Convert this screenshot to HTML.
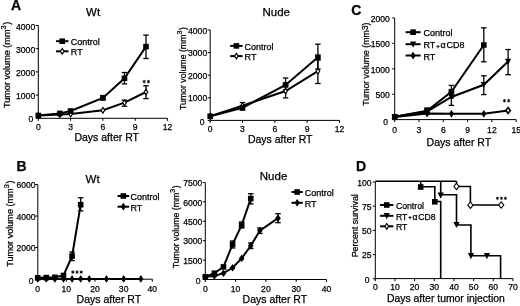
<!DOCTYPE html>
<html><head><meta charset="utf-8"><style>
html,body{margin:0;padding:0;background:#fff;}
body{width:520px;height:306px;overflow:hidden;font-family:"Liberation Sans", sans-serif;}
text{stroke:#000;stroke-width:0.25px;}
svg{display:block;filter:grayscale(1) blur(0.35px);}
</style></head><body>
<svg width="520" height="306" viewBox="0 0 520 306" font-family="'Liberation Sans', sans-serif">
<rect width="520" height="306" fill="#fff"/>
<text x="10.90" y="10.30" font-size="14" text-anchor="start" font-weight="bold" >A</text>
<text x="86.10" y="16.30" font-size="11.5" text-anchor="start" font-weight="normal" >Wt</text>
<line x1="38.30" y1="25.50" x2="38.30" y2="118.30" stroke="#000" stroke-width="1.0"/>
<line x1="38.30" y1="118.30" x2="167.54" y2="118.30" stroke="#000" stroke-width="1.0"/>
<line x1="35.80" y1="118.30" x2="38.30" y2="118.30" stroke="#000" stroke-width="1.0"/>
<line x1="35.80" y1="95.10" x2="38.30" y2="95.10" stroke="#000" stroke-width="1.0"/>
<line x1="35.80" y1="71.90" x2="38.30" y2="71.90" stroke="#000" stroke-width="1.0"/>
<line x1="35.80" y1="48.70" x2="38.30" y2="48.70" stroke="#000" stroke-width="1.0"/>
<line x1="35.80" y1="25.50" x2="38.30" y2="25.50" stroke="#000" stroke-width="1.0"/>
<line x1="38.30" y1="118.30" x2="38.30" y2="120.80" stroke="#000" stroke-width="1.0"/>
<line x1="70.61" y1="118.30" x2="70.61" y2="120.80" stroke="#000" stroke-width="1.0"/>
<line x1="102.92" y1="118.30" x2="102.92" y2="120.80" stroke="#000" stroke-width="1.0"/>
<line x1="135.23" y1="118.30" x2="135.23" y2="120.80" stroke="#000" stroke-width="1.0"/>
<line x1="167.54" y1="118.30" x2="167.54" y2="120.80" stroke="#000" stroke-width="1.0"/>
<text x="35.20" y="99.40" font-size="8.6" text-anchor="end" font-weight="normal" >1000</text>
<text x="35.20" y="76.20" font-size="8.6" text-anchor="end" font-weight="normal" >2000</text>
<text x="35.20" y="53.00" font-size="8.6" text-anchor="end" font-weight="normal" >3000</text>
<text x="35.20" y="29.80" font-size="8.6" text-anchor="end" font-weight="normal" >4000</text>
<text x="33.20" y="122.30" font-size="8.6" text-anchor="end" font-weight="normal" >0</text>
<text x="38.30" y="130.40" font-size="8.6" text-anchor="middle" font-weight="normal" >0</text>
<text x="70.61" y="130.40" font-size="8.6" text-anchor="middle" font-weight="normal" >3</text>
<text x="102.92" y="130.40" font-size="8.6" text-anchor="middle" font-weight="normal" >6</text>
<text x="135.23" y="130.40" font-size="8.6" text-anchor="middle" font-weight="normal" >9</text>
<text x="167.54" y="130.40" font-size="8.6" text-anchor="middle" font-weight="normal" >12</text>
<text x="74.40" y="141.00" font-size="10.5" text-anchor="start" font-weight="normal" >Days after RT</text>
<text transform="translate(10.20,108.00) rotate(-90)" font-size="9.1">Tumor volume (mm<tspan dy="-4.00" font-size="7.46">3</tspan><tspan dy="4.00" dx="0.60">)</tspan></text>
<line x1="56.00" y1="41.20" x2="68.50" y2="41.20" stroke="#000" stroke-width="2.0"/>
<rect x="59.45" y="38.40" width="5.60" height="5.60" fill="#000"/>
<text x="70.80" y="45.20" font-size="9.0" text-anchor="start" font-weight="normal" >Control</text>
<line x1="56.00" y1="51.30" x2="68.50" y2="51.30" stroke="#000" stroke-width="2.0"/>
<polygon points="62.25,48.50 64.05,51.30 62.25,54.10 60.45,51.30" fill="#fff" stroke="#000" stroke-width="1.2"/>
<text x="70.80" y="55.30" font-size="9.0" text-anchor="start" font-weight="normal" >RT</text>
<line x1="124.46" y1="72.50" x2="124.46" y2="83.90" stroke="#000" stroke-width="1.3"/>
<line x1="121.71" y1="72.50" x2="127.21" y2="72.50" stroke="#000" stroke-width="1.3"/>
<line x1="121.71" y1="83.90" x2="127.21" y2="83.90" stroke="#000" stroke-width="1.3"/>
<line x1="146.00" y1="35.10" x2="146.00" y2="58.50" stroke="#000" stroke-width="1.3"/>
<line x1="143.25" y1="35.10" x2="148.75" y2="35.10" stroke="#000" stroke-width="1.3"/>
<line x1="143.25" y1="58.50" x2="148.75" y2="58.50" stroke="#000" stroke-width="1.3"/>
<line x1="124.46" y1="100.20" x2="124.46" y2="106.30" stroke="#000" stroke-width="1.3"/>
<line x1="121.71" y1="100.20" x2="127.21" y2="100.20" stroke="#000" stroke-width="1.3"/>
<line x1="121.71" y1="106.30" x2="127.21" y2="106.30" stroke="#000" stroke-width="1.3"/>
<line x1="146.00" y1="85.80" x2="146.00" y2="98.60" stroke="#000" stroke-width="1.3"/>
<line x1="143.25" y1="85.80" x2="148.75" y2="85.80" stroke="#000" stroke-width="1.3"/>
<line x1="143.25" y1="98.60" x2="148.75" y2="98.60" stroke="#000" stroke-width="1.3"/>
<line x1="102.92" y1="95.50" x2="102.92" y2="99.50" stroke="#000" stroke-width="1.3"/>
<line x1="100.17" y1="95.50" x2="105.67" y2="95.50" stroke="#000" stroke-width="1.3"/>
<line x1="100.17" y1="99.50" x2="105.67" y2="99.50" stroke="#000" stroke-width="1.3"/>
<line x1="70.61" y1="109.50" x2="70.61" y2="113.00" stroke="#000" stroke-width="1.3"/>
<line x1="67.86" y1="109.50" x2="73.36" y2="109.50" stroke="#000" stroke-width="1.3"/>
<line x1="67.86" y1="113.00" x2="73.36" y2="113.00" stroke="#000" stroke-width="1.3"/>
<polyline points="38.30,115.50 59.84,113.40 70.61,111.00 102.92,98.00 124.46,78.30 146.00,46.60" fill="none" stroke="#000" stroke-width="2.0" stroke-linejoin="miter"/>
<polyline points="38.30,115.50 59.84,114.50 70.61,114.00 102.92,110.30 124.46,102.70 146.00,92.00" fill="none" stroke="#000" stroke-width="2.0" stroke-linejoin="miter"/>
<polygon points="38.30,112.70 40.10,115.50 38.30,118.30 36.50,115.50" fill="#fff" stroke="#000" stroke-width="1.2"/>
<polygon points="59.84,111.70 61.64,114.50 59.84,117.30 58.04,114.50" fill="#fff" stroke="#000" stroke-width="1.2"/>
<polygon points="70.61,111.20 72.41,114.00 70.61,116.80 68.81,114.00" fill="#fff" stroke="#000" stroke-width="1.2"/>
<polygon points="102.92,107.50 104.72,110.30 102.92,113.10 101.12,110.30" fill="#fff" stroke="#000" stroke-width="1.2"/>
<polygon points="124.46,99.90 126.26,102.70 124.46,105.50 122.66,102.70" fill="#fff" stroke="#000" stroke-width="1.2"/>
<polygon points="146.00,89.20 147.80,92.00 146.00,94.80 144.20,92.00" fill="#fff" stroke="#000" stroke-width="1.2"/>
<rect x="35.50" y="112.70" width="5.60" height="5.60" fill="#000"/>
<rect x="57.04" y="110.60" width="5.60" height="5.60" fill="#000"/>
<rect x="67.81" y="108.20" width="5.60" height="5.60" fill="#000"/>
<rect x="100.12" y="95.20" width="5.60" height="5.60" fill="#000"/>
<rect x="121.66" y="75.50" width="5.60" height="5.60" fill="#000"/>
<rect x="143.20" y="43.80" width="5.60" height="5.60" fill="#000"/>
<line x1="144.15" y1="79.90" x2="144.15" y2="83.30" stroke="#000" stroke-width="0.95"/>
<line x1="142.68" y1="80.75" x2="145.62" y2="82.45" stroke="#000" stroke-width="0.95"/>
<line x1="142.68" y1="82.45" x2="145.62" y2="80.75" stroke="#000" stroke-width="0.95"/>
<line x1="148.45" y1="79.90" x2="148.45" y2="83.30" stroke="#000" stroke-width="0.95"/>
<line x1="146.98" y1="80.75" x2="149.92" y2="82.45" stroke="#000" stroke-width="0.95"/>
<line x1="146.98" y1="82.45" x2="149.92" y2="80.75" stroke="#000" stroke-width="0.95"/>
<text x="262.50" y="16.10" font-size="11.5" text-anchor="start" font-weight="normal" >Nude</text>
<line x1="210.20" y1="30.00" x2="210.20" y2="120.40" stroke="#000" stroke-width="1.0"/>
<line x1="210.20" y1="120.40" x2="339.44" y2="120.40" stroke="#000" stroke-width="1.0"/>
<line x1="207.70" y1="120.40" x2="210.20" y2="120.40" stroke="#000" stroke-width="1.0"/>
<line x1="207.70" y1="97.80" x2="210.20" y2="97.80" stroke="#000" stroke-width="1.0"/>
<line x1="207.70" y1="75.20" x2="210.20" y2="75.20" stroke="#000" stroke-width="1.0"/>
<line x1="207.70" y1="52.60" x2="210.20" y2="52.60" stroke="#000" stroke-width="1.0"/>
<line x1="207.70" y1="30.00" x2="210.20" y2="30.00" stroke="#000" stroke-width="1.0"/>
<line x1="210.20" y1="120.40" x2="210.20" y2="122.90" stroke="#000" stroke-width="1.0"/>
<line x1="242.51" y1="120.40" x2="242.51" y2="122.90" stroke="#000" stroke-width="1.0"/>
<line x1="274.82" y1="120.40" x2="274.82" y2="122.90" stroke="#000" stroke-width="1.0"/>
<line x1="307.13" y1="120.40" x2="307.13" y2="122.90" stroke="#000" stroke-width="1.0"/>
<line x1="339.44" y1="120.40" x2="339.44" y2="122.90" stroke="#000" stroke-width="1.0"/>
<text x="207.20" y="101.40" font-size="8.6" text-anchor="end" font-weight="normal" >1000</text>
<text x="207.20" y="78.80" font-size="8.6" text-anchor="end" font-weight="normal" >2000</text>
<text x="207.20" y="56.20" font-size="8.6" text-anchor="end" font-weight="normal" >3000</text>
<text x="207.20" y="33.60" font-size="8.6" text-anchor="end" font-weight="normal" >4000</text>
<text x="204.50" y="124.60" font-size="8.6" text-anchor="end" font-weight="normal" >0</text>
<text x="210.20" y="132.10" font-size="8.6" text-anchor="middle" font-weight="normal" >0</text>
<text x="242.51" y="132.10" font-size="8.6" text-anchor="middle" font-weight="normal" >3</text>
<text x="274.82" y="132.10" font-size="8.6" text-anchor="middle" font-weight="normal" >6</text>
<text x="307.13" y="132.10" font-size="8.6" text-anchor="middle" font-weight="normal" >9</text>
<text x="339.44" y="132.10" font-size="8.6" text-anchor="middle" font-weight="normal" >12</text>
<text x="247.90" y="143.40" font-size="10.5" text-anchor="start" font-weight="normal" >Days after RT</text>
<text transform="translate(185.60,110.10) rotate(-90)" font-size="8.75">Tumor volume (mm<tspan dy="-3.85" font-size="7.17">3</tspan><tspan dy="3.85" dx="0.58">)</tspan></text>
<line x1="230.20" y1="45.90" x2="242.60" y2="45.90" stroke="#000" stroke-width="2.0"/>
<rect x="233.60" y="43.10" width="5.60" height="5.60" fill="#000"/>
<text x="244.60" y="49.90" font-size="9.0" text-anchor="start" font-weight="normal" >Control</text>
<line x1="230.20" y1="56.10" x2="242.60" y2="56.10" stroke="#000" stroke-width="2.0"/>
<polygon points="236.40,53.30 238.20,56.10 236.40,58.90 234.60,56.10" fill="#fff" stroke="#000" stroke-width="1.2"/>
<text x="244.60" y="60.10" font-size="9.0" text-anchor="start" font-weight="normal" >RT</text>
<line x1="317.90" y1="44.20" x2="317.90" y2="69.00" stroke="#000" stroke-width="1.3"/>
<line x1="315.15" y1="44.20" x2="320.65" y2="44.20" stroke="#000" stroke-width="1.3"/>
<line x1="315.15" y1="69.00" x2="320.65" y2="69.00" stroke="#000" stroke-width="1.3"/>
<line x1="317.90" y1="60.00" x2="317.90" y2="83.50" stroke="#000" stroke-width="1.3"/>
<line x1="315.15" y1="60.00" x2="320.65" y2="60.00" stroke="#000" stroke-width="1.3"/>
<line x1="315.15" y1="83.50" x2="320.65" y2="83.50" stroke="#000" stroke-width="1.3"/>
<line x1="285.59" y1="78.00" x2="285.59" y2="90.00" stroke="#000" stroke-width="1.3"/>
<line x1="282.84" y1="78.00" x2="288.34" y2="78.00" stroke="#000" stroke-width="1.3"/>
<line x1="282.84" y1="90.00" x2="288.34" y2="90.00" stroke="#000" stroke-width="1.3"/>
<line x1="285.59" y1="85.00" x2="285.59" y2="97.90" stroke="#000" stroke-width="1.3"/>
<line x1="282.84" y1="85.00" x2="288.34" y2="85.00" stroke="#000" stroke-width="1.3"/>
<line x1="282.84" y1="97.90" x2="288.34" y2="97.90" stroke="#000" stroke-width="1.3"/>
<line x1="242.51" y1="102.50" x2="242.51" y2="110.00" stroke="#000" stroke-width="1.3"/>
<line x1="239.76" y1="102.50" x2="245.26" y2="102.50" stroke="#000" stroke-width="1.3"/>
<line x1="239.76" y1="110.00" x2="245.26" y2="110.00" stroke="#000" stroke-width="1.3"/>
<polyline points="210.20,116.30 242.51,107.80 285.59,84.90 317.90,57.20" fill="none" stroke="#000" stroke-width="2.0" stroke-linejoin="miter"/>
<polyline points="210.20,116.30 242.51,105.60 285.59,91.00 317.90,71.20" fill="none" stroke="#000" stroke-width="2.0" stroke-linejoin="miter"/>
<polygon points="210.20,113.50 212.00,116.30 210.20,119.10 208.40,116.30" fill="#fff" stroke="#000" stroke-width="1.2"/>
<polygon points="242.51,102.80 244.31,105.60 242.51,108.40 240.71,105.60" fill="#fff" stroke="#000" stroke-width="1.2"/>
<polygon points="285.59,88.20 287.39,91.00 285.59,93.80 283.79,91.00" fill="#fff" stroke="#000" stroke-width="1.2"/>
<polygon points="317.90,68.40 319.70,71.20 317.90,74.00 316.10,71.20" fill="#fff" stroke="#000" stroke-width="1.2"/>
<rect x="207.40" y="113.50" width="5.60" height="5.60" fill="#000"/>
<rect x="239.71" y="105.00" width="5.60" height="5.60" fill="#000"/>
<rect x="282.79" y="82.10" width="5.60" height="5.60" fill="#000"/>
<rect x="315.10" y="54.40" width="5.60" height="5.60" fill="#000"/>
<text x="351.20" y="15.10" font-size="14" text-anchor="start" font-weight="bold" >C</text>
<line x1="394.70" y1="18.00" x2="394.70" y2="119.60" stroke="#000" stroke-width="1.0"/>
<line x1="394.70" y1="119.60" x2="516.20" y2="119.60" stroke="#000" stroke-width="1.0"/>
<line x1="392.20" y1="119.60" x2="394.70" y2="119.60" stroke="#000" stroke-width="1.0"/>
<line x1="392.20" y1="94.20" x2="394.70" y2="94.20" stroke="#000" stroke-width="1.0"/>
<line x1="392.20" y1="68.80" x2="394.70" y2="68.80" stroke="#000" stroke-width="1.0"/>
<line x1="392.20" y1="43.40" x2="394.70" y2="43.40" stroke="#000" stroke-width="1.0"/>
<line x1="392.20" y1="18.00" x2="394.70" y2="18.00" stroke="#000" stroke-width="1.0"/>
<line x1="394.70" y1="119.60" x2="394.70" y2="122.10" stroke="#000" stroke-width="1.0"/>
<line x1="419.00" y1="119.60" x2="419.00" y2="122.10" stroke="#000" stroke-width="1.0"/>
<line x1="443.30" y1="119.60" x2="443.30" y2="122.10" stroke="#000" stroke-width="1.0"/>
<line x1="467.60" y1="119.60" x2="467.60" y2="122.10" stroke="#000" stroke-width="1.0"/>
<line x1="491.90" y1="119.60" x2="491.90" y2="122.10" stroke="#000" stroke-width="1.0"/>
<line x1="516.20" y1="119.60" x2="516.20" y2="122.10" stroke="#000" stroke-width="1.0"/>
<text x="389.80" y="98.00" font-size="8.6" text-anchor="end" font-weight="normal" >500</text>
<text x="389.80" y="72.60" font-size="8.6" text-anchor="end" font-weight="normal" >1000</text>
<text x="389.80" y="47.20" font-size="8.6" text-anchor="end" font-weight="normal" >1500</text>
<text x="389.80" y="21.80" font-size="8.6" text-anchor="end" font-weight="normal" >2000</text>
<text x="388.00" y="124.60" font-size="8.6" text-anchor="end" font-weight="normal" >0</text>
<text x="394.70" y="132.80" font-size="8.6" text-anchor="middle" font-weight="normal" >0</text>
<text x="419.00" y="132.80" font-size="8.6" text-anchor="middle" font-weight="normal" >3</text>
<text x="443.30" y="132.80" font-size="8.6" text-anchor="middle" font-weight="normal" >6</text>
<text x="467.60" y="132.80" font-size="8.6" text-anchor="middle" font-weight="normal" >9</text>
<text x="491.90" y="132.80" font-size="8.6" text-anchor="middle" font-weight="normal" >12</text>
<text x="516.20" y="132.80" font-size="8.6" text-anchor="middle" font-weight="normal" >15</text>
<text x="426.60" y="145.60" font-size="10.5" text-anchor="start" font-weight="normal" >Days after RT</text>
<text transform="translate(369.00,105.80) rotate(-90)" font-size="8.75">Tumor volume (mm<tspan dy="-0.8">3</tspan><tspan dy="0.8">)</tspan></text>
<line x1="405.60" y1="32.20" x2="420.60" y2="32.20" stroke="#000" stroke-width="2.0"/>
<rect x="410.30" y="29.40" width="5.60" height="5.60" fill="#000"/>
<text x="423.50" y="36.20" font-size="9.0" text-anchor="start" font-weight="normal" >Control</text>
<line x1="405.60" y1="44.20" x2="420.60" y2="44.20" stroke="#000" stroke-width="2.0"/>
<polygon points="410.10,41.50 416.10,41.50 413.10,47.70" fill="#000"/>
<text x="423.50" y="48.20" font-size="9.0" text-anchor="start" font-weight="normal" >RT<tspan font-size="6" font-weight="bold" dx="0.8" dy="-0.6">+</tspan><tspan dx="0.8" dy="0.6">α</tspan><tspan dx="0.8">CD8</tspan></text>
<line x1="405.60" y1="55.50" x2="420.60" y2="55.50" stroke="#000" stroke-width="2.0"/>
<polygon points="413.10,52.70 414.90,55.50 413.10,58.30 411.30,55.50" fill="#000" stroke="#000" stroke-width="1.2"/>
<text x="423.50" y="59.50" font-size="9.0" text-anchor="start" font-weight="normal" >RT</text>
<line x1="451.40" y1="85.40" x2="451.40" y2="98.00" stroke="#000" stroke-width="1.3"/>
<line x1="448.65" y1="85.40" x2="454.15" y2="85.40" stroke="#000" stroke-width="1.3"/>
<line x1="448.65" y1="98.00" x2="454.15" y2="98.00" stroke="#000" stroke-width="1.3"/>
<line x1="483.80" y1="27.80" x2="483.80" y2="61.80" stroke="#000" stroke-width="1.3"/>
<line x1="481.05" y1="27.80" x2="486.55" y2="27.80" stroke="#000" stroke-width="1.3"/>
<line x1="481.05" y1="61.80" x2="486.55" y2="61.80" stroke="#000" stroke-width="1.3"/>
<line x1="451.40" y1="92.00" x2="451.40" y2="105.40" stroke="#000" stroke-width="1.3"/>
<line x1="448.65" y1="92.00" x2="454.15" y2="92.00" stroke="#000" stroke-width="1.3"/>
<line x1="448.65" y1="105.40" x2="454.15" y2="105.40" stroke="#000" stroke-width="1.3"/>
<line x1="483.80" y1="75.80" x2="483.80" y2="94.60" stroke="#000" stroke-width="1.3"/>
<line x1="481.05" y1="75.80" x2="486.55" y2="75.80" stroke="#000" stroke-width="1.3"/>
<line x1="481.05" y1="94.60" x2="486.55" y2="94.60" stroke="#000" stroke-width="1.3"/>
<line x1="508.10" y1="49.50" x2="508.10" y2="74.70" stroke="#000" stroke-width="1.3"/>
<line x1="505.35" y1="49.50" x2="510.85" y2="49.50" stroke="#000" stroke-width="1.3"/>
<line x1="505.35" y1="74.70" x2="510.85" y2="74.70" stroke="#000" stroke-width="1.3"/>
<line x1="427.10" y1="108.00" x2="427.10" y2="114.00" stroke="#000" stroke-width="1.3"/>
<line x1="424.35" y1="108.00" x2="429.85" y2="108.00" stroke="#000" stroke-width="1.3"/>
<line x1="424.35" y1="114.00" x2="429.85" y2="114.00" stroke="#000" stroke-width="1.3"/>
<polyline points="394.70,116.80 427.10,110.80 451.40,91.70 483.80,45.00" fill="none" stroke="#000" stroke-width="2.0" stroke-linejoin="miter"/>
<polyline points="394.70,116.80 427.10,111.50 451.40,97.00 483.80,84.80 508.10,61.50" fill="none" stroke="#000" stroke-width="2.0" stroke-linejoin="miter"/>
<polyline points="394.70,117.00 427.10,113.60 451.40,113.80 483.80,113.80 508.10,110.50" fill="none" stroke="#000" stroke-width="2.0" stroke-linejoin="miter"/>
<polygon points="394.70,114.20 396.50,117.00 394.70,119.80 392.90,117.00" fill="#000" stroke="#000" stroke-width="1.2"/>
<polygon points="427.10,110.80 428.90,113.60 427.10,116.40 425.30,113.60" fill="#000" stroke="#000" stroke-width="1.2"/>
<polygon points="451.40,111.00 453.20,113.80 451.40,116.60 449.60,113.80" fill="#000" stroke="#000" stroke-width="1.2"/>
<polygon points="483.80,111.00 485.60,113.80 483.80,116.60 482.00,113.80" fill="#000" stroke="#000" stroke-width="1.2"/>
<polygon points="391.70,114.10 397.70,114.10 394.70,120.30" fill="#000"/>
<polygon points="424.10,108.80 430.10,108.80 427.10,115.00" fill="#000"/>
<polygon points="448.40,94.30 454.40,94.30 451.40,100.50" fill="#000"/>
<polygon points="480.80,82.10 486.80,82.10 483.80,88.30" fill="#000"/>
<polygon points="505.10,58.80 511.10,58.80 508.10,65.00" fill="#000"/>
<rect x="391.90" y="114.00" width="5.60" height="5.60" fill="#000"/>
<rect x="424.30" y="108.00" width="5.60" height="5.60" fill="#000"/>
<rect x="448.60" y="88.90" width="5.60" height="5.60" fill="#000"/>
<rect x="481.00" y="42.20" width="5.60" height="5.60" fill="#000"/>
<polygon points="508.10,107.50 510.30,110.50 508.10,113.50 505.90,110.50" fill="#fff" stroke="#000" stroke-width="1.6"/>
<line x1="504.45" y1="99.00" x2="504.45" y2="102.40" stroke="#000" stroke-width="0.95"/>
<line x1="502.98" y1="99.85" x2="505.92" y2="101.55" stroke="#000" stroke-width="0.95"/>
<line x1="502.98" y1="101.55" x2="505.92" y2="99.85" stroke="#000" stroke-width="0.95"/>
<line x1="508.75" y1="99.00" x2="508.75" y2="102.40" stroke="#000" stroke-width="0.95"/>
<line x1="507.28" y1="99.85" x2="510.22" y2="101.55" stroke="#000" stroke-width="0.95"/>
<line x1="507.28" y1="101.55" x2="510.22" y2="99.85" stroke="#000" stroke-width="0.95"/>
<text x="16.60" y="170.70" font-size="14" text-anchor="start" font-weight="bold" >B</text>
<text x="85.60" y="182.50" font-size="11.5" text-anchor="start" font-weight="normal" >Wt</text>
<line x1="37.80" y1="184.50" x2="37.80" y2="279.20" stroke="#000" stroke-width="1.0"/>
<line x1="37.80" y1="279.20" x2="152.30" y2="279.20" stroke="#000" stroke-width="1.0"/>
<line x1="35.30" y1="279.00" x2="37.80" y2="279.00" stroke="#000" stroke-width="1.0"/>
<line x1="35.30" y1="247.50" x2="37.80" y2="247.50" stroke="#000" stroke-width="1.0"/>
<line x1="35.30" y1="216.00" x2="37.80" y2="216.00" stroke="#000" stroke-width="1.0"/>
<line x1="35.30" y1="184.50" x2="37.80" y2="184.50" stroke="#000" stroke-width="1.0"/>
<line x1="37.70" y1="279.20" x2="37.70" y2="281.70" stroke="#000" stroke-width="1.0"/>
<line x1="66.35" y1="279.20" x2="66.35" y2="281.70" stroke="#000" stroke-width="1.0"/>
<line x1="95.00" y1="279.20" x2="95.00" y2="281.70" stroke="#000" stroke-width="1.0"/>
<line x1="123.65" y1="279.20" x2="123.65" y2="281.70" stroke="#000" stroke-width="1.0"/>
<line x1="152.30" y1="279.20" x2="152.30" y2="281.70" stroke="#000" stroke-width="1.0"/>
<text x="35.60" y="251.30" font-size="8.6" text-anchor="end" font-weight="normal" >2000</text>
<text x="35.60" y="219.80" font-size="8.6" text-anchor="end" font-weight="normal" >4000</text>
<text x="35.60" y="188.30" font-size="8.6" text-anchor="end" font-weight="normal" >6000</text>
<text x="33.50" y="284.00" font-size="8.6" text-anchor="end" font-weight="normal" >0</text>
<text x="37.70" y="291.60" font-size="8.6" text-anchor="middle" font-weight="normal" >0</text>
<text x="66.35" y="291.60" font-size="8.6" text-anchor="middle" font-weight="normal" >10</text>
<text x="95.00" y="291.60" font-size="8.6" text-anchor="middle" font-weight="normal" >20</text>
<text x="123.65" y="291.60" font-size="8.6" text-anchor="middle" font-weight="normal" >30</text>
<text x="152.30" y="291.60" font-size="8.6" text-anchor="middle" font-weight="normal" >40</text>
<text x="76.60" y="303.00" font-size="10.5" text-anchor="start" font-weight="normal" >Days after RT</text>
<text transform="translate(13.20,266.80) rotate(-90)" font-size="9.1">Tumor volume (mm<tspan dy="-4.00" font-size="7.46">3</tspan><tspan dy="4.00" dx="0.60">)</tspan></text>
<line x1="117.50" y1="196.00" x2="129.20" y2="196.00" stroke="#000" stroke-width="2.0"/>
<rect x="120.55" y="193.20" width="5.60" height="5.60" fill="#000"/>
<text x="130.40" y="200.00" font-size="9.0" text-anchor="start" font-weight="normal" >Control</text>
<line x1="117.50" y1="206.70" x2="129.20" y2="206.70" stroke="#000" stroke-width="2.0"/>
<polygon points="123.35,203.90 125.15,206.70 123.35,209.50 121.55,206.70" fill="#000" stroke="#000" stroke-width="1.2"/>
<text x="130.40" y="210.70" font-size="9.0" text-anchor="start" font-weight="normal" >RT</text>
<line x1="72.08" y1="252.00" x2="72.08" y2="260.60" stroke="#000" stroke-width="1.3"/>
<line x1="69.33" y1="252.00" x2="74.83" y2="252.00" stroke="#000" stroke-width="1.3"/>
<line x1="69.33" y1="260.60" x2="74.83" y2="260.60" stroke="#000" stroke-width="1.3"/>
<line x1="80.68" y1="197.80" x2="80.68" y2="210.90" stroke="#000" stroke-width="1.3"/>
<line x1="77.93" y1="197.80" x2="83.43" y2="197.80" stroke="#000" stroke-width="1.3"/>
<line x1="77.93" y1="210.90" x2="83.43" y2="210.90" stroke="#000" stroke-width="1.3"/>
<polyline points="37.70,277.80 46.30,277.60 54.89,277.30 63.49,275.50 72.08,256.10 80.68,204.70" fill="none" stroke="#000" stroke-width="2.0" stroke-linejoin="miter"/>
<polyline points="37.70,278.90 46.30,278.90 54.89,278.90 63.49,278.90 72.08,278.90 80.68,278.90 89.27,278.90 106.46,278.90 123.65,278.90 140.84,278.90" fill="none" stroke="#000" stroke-width="2.0" stroke-linejoin="miter"/>
<polygon points="37.70,276.10 39.50,278.90 37.70,281.70 35.90,278.90" fill="#000" stroke="#000" stroke-width="1.2"/>
<polygon points="46.30,276.10 48.09,278.90 46.30,281.70 44.50,278.90" fill="#000" stroke="#000" stroke-width="1.2"/>
<polygon points="54.89,276.10 56.69,278.90 54.89,281.70 53.09,278.90" fill="#000" stroke="#000" stroke-width="1.2"/>
<polygon points="63.49,276.10 65.29,278.90 63.49,281.70 61.69,278.90" fill="#000" stroke="#000" stroke-width="1.2"/>
<polygon points="72.08,276.10 73.88,278.90 72.08,281.70 70.28,278.90" fill="#000" stroke="#000" stroke-width="1.2"/>
<polygon points="80.68,276.10 82.48,278.90 80.68,281.70 78.88,278.90" fill="#000" stroke="#000" stroke-width="1.2"/>
<polygon points="89.27,276.10 91.07,278.90 89.27,281.70 87.47,278.90" fill="#000" stroke="#000" stroke-width="1.2"/>
<polygon points="106.46,276.10 108.26,278.90 106.46,281.70 104.66,278.90" fill="#000" stroke="#000" stroke-width="1.2"/>
<polygon points="123.65,276.10 125.45,278.90 123.65,281.70 121.85,278.90" fill="#000" stroke="#000" stroke-width="1.2"/>
<polygon points="140.84,276.10 142.64,278.90 140.84,281.70 139.04,278.90" fill="#000" stroke="#000" stroke-width="1.2"/>
<rect x="34.90" y="275.00" width="5.60" height="5.60" fill="#000"/>
<rect x="43.50" y="274.80" width="5.60" height="5.60" fill="#000"/>
<rect x="52.09" y="274.50" width="5.60" height="5.60" fill="#000"/>
<rect x="60.69" y="272.70" width="5.60" height="5.60" fill="#000"/>
<rect x="69.28" y="253.30" width="5.60" height="5.60" fill="#000"/>
<rect x="77.88" y="201.90" width="5.60" height="5.60" fill="#000"/>
<line x1="72.80" y1="270.40" x2="72.80" y2="273.80" stroke="#000" stroke-width="0.95"/>
<line x1="71.33" y1="271.25" x2="74.27" y2="272.95" stroke="#000" stroke-width="0.95"/>
<line x1="71.33" y1="272.95" x2="74.27" y2="271.25" stroke="#000" stroke-width="0.95"/>
<line x1="77.00" y1="270.40" x2="77.00" y2="273.80" stroke="#000" stroke-width="0.95"/>
<line x1="75.53" y1="271.25" x2="78.47" y2="272.95" stroke="#000" stroke-width="0.95"/>
<line x1="75.53" y1="272.95" x2="78.47" y2="271.25" stroke="#000" stroke-width="0.95"/>
<line x1="81.20" y1="270.40" x2="81.20" y2="273.80" stroke="#000" stroke-width="0.95"/>
<line x1="79.73" y1="271.25" x2="82.67" y2="272.95" stroke="#000" stroke-width="0.95"/>
<line x1="79.73" y1="272.95" x2="82.67" y2="271.25" stroke="#000" stroke-width="0.95"/>
<text x="259.80" y="179.80" font-size="11.5" text-anchor="start" font-weight="normal" >Nude</text>
<line x1="205.30" y1="182.52" x2="205.30" y2="279.50" stroke="#000" stroke-width="1.0"/>
<line x1="205.30" y1="279.50" x2="326.50" y2="279.50" stroke="#000" stroke-width="1.0"/>
<line x1="202.80" y1="279.50" x2="205.30" y2="279.50" stroke="#000" stroke-width="1.0"/>
<line x1="202.80" y1="260.11" x2="205.30" y2="260.11" stroke="#000" stroke-width="1.0"/>
<line x1="202.80" y1="240.71" x2="205.30" y2="240.71" stroke="#000" stroke-width="1.0"/>
<line x1="202.80" y1="221.31" x2="205.30" y2="221.31" stroke="#000" stroke-width="1.0"/>
<line x1="202.80" y1="201.92" x2="205.30" y2="201.92" stroke="#000" stroke-width="1.0"/>
<line x1="202.80" y1="182.52" x2="205.30" y2="182.52" stroke="#000" stroke-width="1.0"/>
<line x1="205.30" y1="279.50" x2="205.30" y2="282.00" stroke="#000" stroke-width="1.0"/>
<line x1="235.60" y1="279.50" x2="235.60" y2="282.00" stroke="#000" stroke-width="1.0"/>
<line x1="265.90" y1="279.50" x2="265.90" y2="282.00" stroke="#000" stroke-width="1.0"/>
<line x1="296.20" y1="279.50" x2="296.20" y2="282.00" stroke="#000" stroke-width="1.0"/>
<line x1="326.50" y1="279.50" x2="326.50" y2="282.00" stroke="#000" stroke-width="1.0"/>
<text x="202.40" y="263.71" font-size="8.6" text-anchor="end" font-weight="normal" >1500</text>
<text x="202.40" y="244.31" font-size="8.6" text-anchor="end" font-weight="normal" >3000</text>
<text x="202.40" y="224.91" font-size="8.6" text-anchor="end" font-weight="normal" >4500</text>
<text x="202.40" y="205.52" font-size="8.6" text-anchor="end" font-weight="normal" >6000</text>
<text x="202.40" y="186.12" font-size="8.6" text-anchor="end" font-weight="normal" >7500</text>
<text x="200.50" y="284.00" font-size="8.6" text-anchor="end" font-weight="normal" >0</text>
<text x="205.30" y="292.20" font-size="8.6" text-anchor="middle" font-weight="normal" >0</text>
<text x="235.60" y="292.20" font-size="8.6" text-anchor="middle" font-weight="normal" >10</text>
<text x="265.90" y="292.20" font-size="8.6" text-anchor="middle" font-weight="normal" >20</text>
<text x="296.20" y="292.20" font-size="8.6" text-anchor="middle" font-weight="normal" >30</text>
<text x="326.50" y="292.20" font-size="8.6" text-anchor="middle" font-weight="normal" >40</text>
<text x="242.60" y="303.30" font-size="10.5" text-anchor="start" font-weight="normal" >Days after RT</text>
<text transform="translate(179.00,268.30) rotate(-90)" font-size="8.75">Tumor volume (mm<tspan dy="-3.85" font-size="7.17">3</tspan><tspan dy="3.85" dx="0.58">)</tspan></text>
<line x1="291.50" y1="192.00" x2="302.80" y2="192.00" stroke="#000" stroke-width="2.0"/>
<rect x="294.35" y="189.20" width="5.60" height="5.60" fill="#000"/>
<text x="304.70" y="196.00" font-size="9.0" text-anchor="start" font-weight="normal" >Control</text>
<line x1="291.50" y1="202.80" x2="302.80" y2="202.80" stroke="#000" stroke-width="2.0"/>
<polygon points="297.15,200.00 298.95,202.80 297.15,205.60 295.35,202.80" fill="#000" stroke="#000" stroke-width="1.2"/>
<text x="304.70" y="206.80" font-size="9.0" text-anchor="start" font-weight="normal" >RT</text>
<line x1="232.57" y1="241.00" x2="232.57" y2="248.00" stroke="#000" stroke-width="1.3"/>
<line x1="229.82" y1="241.00" x2="235.32" y2="241.00" stroke="#000" stroke-width="1.3"/>
<line x1="229.82" y1="248.00" x2="235.32" y2="248.00" stroke="#000" stroke-width="1.3"/>
<line x1="241.66" y1="222.00" x2="241.66" y2="228.00" stroke="#000" stroke-width="1.3"/>
<line x1="238.91" y1="222.00" x2="244.41" y2="222.00" stroke="#000" stroke-width="1.3"/>
<line x1="238.91" y1="228.00" x2="244.41" y2="228.00" stroke="#000" stroke-width="1.3"/>
<line x1="250.75" y1="193.70" x2="250.75" y2="203.90" stroke="#000" stroke-width="1.3"/>
<line x1="248.00" y1="193.70" x2="253.50" y2="193.70" stroke="#000" stroke-width="1.3"/>
<line x1="248.00" y1="203.90" x2="253.50" y2="203.90" stroke="#000" stroke-width="1.3"/>
<line x1="250.75" y1="243.00" x2="250.75" y2="248.50" stroke="#000" stroke-width="1.3"/>
<line x1="248.00" y1="243.00" x2="253.50" y2="243.00" stroke="#000" stroke-width="1.3"/>
<line x1="248.00" y1="248.50" x2="253.50" y2="248.50" stroke="#000" stroke-width="1.3"/>
<line x1="259.84" y1="228.00" x2="259.84" y2="233.50" stroke="#000" stroke-width="1.3"/>
<line x1="257.09" y1="228.00" x2="262.59" y2="228.00" stroke="#000" stroke-width="1.3"/>
<line x1="257.09" y1="233.50" x2="262.59" y2="233.50" stroke="#000" stroke-width="1.3"/>
<line x1="278.02" y1="213.70" x2="278.02" y2="222.70" stroke="#000" stroke-width="1.3"/>
<line x1="275.27" y1="213.70" x2="280.77" y2="213.70" stroke="#000" stroke-width="1.3"/>
<line x1="275.27" y1="222.70" x2="280.77" y2="222.70" stroke="#000" stroke-width="1.3"/>
<polyline points="205.30,276.80 214.39,273.20 223.48,266.90 232.57,244.40 241.66,225.10 250.75,198.60" fill="none" stroke="#000" stroke-width="2.0" stroke-linejoin="miter"/>
<polyline points="205.30,276.80 214.39,275.90 223.48,273.20 232.57,267.80 241.66,258.40 250.75,245.80 259.84,230.60 278.02,218.20" fill="none" stroke="#000" stroke-width="2.0" stroke-linejoin="miter"/>
<polygon points="205.30,274.10 207.40,276.80 205.30,279.50 203.20,276.80" fill="#000" stroke="#000" stroke-width="1.2"/>
<polygon points="214.39,273.20 216.49,275.90 214.39,278.60 212.29,275.90" fill="#000" stroke="#000" stroke-width="1.2"/>
<polygon points="223.48,270.50 225.58,273.20 223.48,275.90 221.38,273.20" fill="#000" stroke="#000" stroke-width="1.2"/>
<polygon points="232.57,265.10 234.67,267.80 232.57,270.50 230.47,267.80" fill="#000" stroke="#000" stroke-width="1.2"/>
<polygon points="241.66,255.70 243.76,258.40 241.66,261.10 239.56,258.40" fill="#000" stroke="#000" stroke-width="1.2"/>
<polygon points="250.75,243.10 252.85,245.80 250.75,248.50 248.65,245.80" fill="#000" stroke="#000" stroke-width="1.2"/>
<polygon points="259.84,227.90 261.94,230.60 259.84,233.30 257.74,230.60" fill="#000" stroke="#000" stroke-width="1.2"/>
<polygon points="278.02,215.50 280.12,218.20 278.02,220.90 275.92,218.20" fill="#000" stroke="#000" stroke-width="1.2"/>
<rect x="202.50" y="274.00" width="5.60" height="5.60" fill="#000"/>
<rect x="211.59" y="270.40" width="5.60" height="5.60" fill="#000"/>
<rect x="220.68" y="264.10" width="5.60" height="5.60" fill="#000"/>
<rect x="229.77" y="241.60" width="5.60" height="5.60" fill="#000"/>
<rect x="238.86" y="222.30" width="5.60" height="5.60" fill="#000"/>
<rect x="247.95" y="195.80" width="5.60" height="5.60" fill="#000"/>
<text x="355.90" y="170.70" font-size="14" text-anchor="start" font-weight="bold" >D</text>
<line x1="375.30" y1="182.00" x2="375.30" y2="278.60" stroke="#000" stroke-width="1.0"/>
<line x1="375.30" y1="278.60" x2="512.99" y2="278.60" stroke="#000" stroke-width="1.0"/>
<line x1="372.80" y1="278.80" x2="375.30" y2="278.80" stroke="#000" stroke-width="1.0"/>
<line x1="372.80" y1="254.60" x2="375.30" y2="254.60" stroke="#000" stroke-width="1.0"/>
<line x1="372.80" y1="230.40" x2="375.30" y2="230.40" stroke="#000" stroke-width="1.0"/>
<line x1="372.80" y1="206.20" x2="375.30" y2="206.20" stroke="#000" stroke-width="1.0"/>
<line x1="372.80" y1="182.00" x2="375.30" y2="182.00" stroke="#000" stroke-width="1.0"/>
<line x1="375.30" y1="278.60" x2="375.30" y2="281.10" stroke="#000" stroke-width="1.0"/>
<line x1="394.97" y1="278.60" x2="394.97" y2="281.10" stroke="#000" stroke-width="1.0"/>
<line x1="414.64" y1="278.60" x2="414.64" y2="281.10" stroke="#000" stroke-width="1.0"/>
<line x1="434.31" y1="278.60" x2="434.31" y2="281.10" stroke="#000" stroke-width="1.0"/>
<line x1="453.98" y1="278.60" x2="453.98" y2="281.10" stroke="#000" stroke-width="1.0"/>
<line x1="473.65" y1="278.60" x2="473.65" y2="281.10" stroke="#000" stroke-width="1.0"/>
<line x1="493.32" y1="278.60" x2="493.32" y2="281.10" stroke="#000" stroke-width="1.0"/>
<line x1="512.99" y1="278.60" x2="512.99" y2="281.10" stroke="#000" stroke-width="1.0"/>
<text x="371.60" y="258.20" font-size="8.6" text-anchor="end" font-weight="normal" >25</text>
<text x="371.60" y="234.00" font-size="8.6" text-anchor="end" font-weight="normal" >50</text>
<text x="371.60" y="209.80" font-size="8.6" text-anchor="end" font-weight="normal" >75</text>
<text x="371.60" y="185.60" font-size="8.6" text-anchor="end" font-weight="normal" >100</text>
<text x="369.50" y="283.00" font-size="8.6" text-anchor="end" font-weight="normal" >0</text>
<text x="375.30" y="290.40" font-size="8.6" text-anchor="middle" font-weight="normal" >0</text>
<text x="394.97" y="290.40" font-size="8.6" text-anchor="middle" font-weight="normal" >10</text>
<text x="414.64" y="290.40" font-size="8.6" text-anchor="middle" font-weight="normal" >20</text>
<text x="434.31" y="290.40" font-size="8.6" text-anchor="middle" font-weight="normal" >30</text>
<text x="453.98" y="290.40" font-size="8.6" text-anchor="middle" font-weight="normal" >40</text>
<text x="473.65" y="290.40" font-size="8.6" text-anchor="middle" font-weight="normal" >50</text>
<text x="493.32" y="290.40" font-size="8.6" text-anchor="middle" font-weight="normal" >60</text>
<text x="512.99" y="290.40" font-size="8.6" text-anchor="middle" font-weight="normal" >70</text>
<text x="387.00" y="302.30" font-size="10.4" text-anchor="start" font-weight="normal" >Days after tumor injection</text>
<text transform="translate(358.20,257.30) rotate(-90)" font-size="8.9">Percent survival</text>
<line x1="380.10" y1="205.00" x2="393.40" y2="205.00" stroke="#000" stroke-width="2.0"/>
<rect x="383.95" y="202.20" width="5.60" height="5.60" fill="#000"/>
<text x="395.90" y="209.00" font-size="8.7" text-anchor="start" font-weight="normal" >Control</text>
<line x1="380.10" y1="215.80" x2="393.40" y2="215.80" stroke="#000" stroke-width="2.0"/>
<polygon points="383.75,213.10 389.75,213.10 386.75,219.30" fill="#000"/>
<text x="395.90" y="219.80" font-size="8.7" text-anchor="start" font-weight="normal" >RT<tspan font-size="6" font-weight="bold" dx="0.8" dy="-0.6">+</tspan><tspan dx="0.8" dy="0.6">α</tspan><tspan dx="0.8">CD8</tspan></text>
<line x1="380.10" y1="226.30" x2="393.40" y2="226.30" stroke="#000" stroke-width="2.0"/>
<polygon points="386.75,223.50 388.55,226.30 386.75,229.10 384.95,226.30" fill="#fff" stroke="#000" stroke-width="1.2"/>
<text x="395.90" y="230.30" font-size="8.7" text-anchor="start" font-weight="normal" >RT</text>
<polyline points="375.30,181.30 456.50,181.30" fill="none" stroke="#000" stroke-width="1.6" stroke-linejoin="miter"/>
<polyline points="420.70,181.30 420.70,186.80 434.80,186.80 434.80,201.50 440.70,201.50 440.70,278.60" fill="none" stroke="#000" stroke-width="1.6" stroke-linejoin="miter"/>
<polyline points="440.70,181.30 440.70,194.80 456.50,194.80 456.50,225.00 470.90,225.00 470.90,255.70 500.60,255.70 500.60,278.60" fill="none" stroke="#000" stroke-width="1.6" stroke-linejoin="miter"/>
<polyline points="456.50,181.30 456.50,186.50 470.40,186.50 470.40,205.00 501.20,205.00" fill="none" stroke="#000" stroke-width="1.6" stroke-linejoin="miter"/>
<rect x="417.90" y="184.20" width="5.60" height="5.60" fill="#000"/>
<rect x="432.00" y="199.00" width="5.60" height="5.60" fill="#000"/>
<polygon points="437.60,192.60 443.80,192.60 440.70,198.80" fill="#000"/>
<polygon points="453.40,221.90 459.60,221.90 456.50,228.10" fill="#000"/>
<polygon points="467.80,253.00 474.00,253.00 470.90,259.20" fill="#000"/>
<polygon points="483.80,253.00 490.00,253.00 486.90,259.20" fill="#000"/>
<polygon points="456.50,183.30 459.10,186.50 456.50,189.70 453.90,186.50" fill="#fff" stroke="#000" stroke-width="1.1"/>
<polygon points="470.40,202.00 473.00,205.20 470.40,208.40 467.80,205.20" fill="#fff" stroke="#000" stroke-width="1.1"/>
<polygon points="501.20,201.80 503.80,205.00 501.20,208.20 498.60,205.00" fill="#fff" stroke="#000" stroke-width="1.1"/>
<line x1="497.40" y1="196.80" x2="497.40" y2="199.80" stroke="#000" stroke-width="0.95"/>
<line x1="496.10" y1="197.55" x2="498.70" y2="199.05" stroke="#000" stroke-width="0.95"/>
<line x1="496.10" y1="199.05" x2="498.70" y2="197.55" stroke="#000" stroke-width="0.95"/>
<line x1="501.40" y1="196.80" x2="501.40" y2="199.80" stroke="#000" stroke-width="0.95"/>
<line x1="500.10" y1="197.55" x2="502.70" y2="199.05" stroke="#000" stroke-width="0.95"/>
<line x1="500.10" y1="199.05" x2="502.70" y2="197.55" stroke="#000" stroke-width="0.95"/>
<line x1="505.40" y1="196.80" x2="505.40" y2="199.80" stroke="#000" stroke-width="0.95"/>
<line x1="504.10" y1="197.55" x2="506.70" y2="199.05" stroke="#000" stroke-width="0.95"/>
<line x1="504.10" y1="199.05" x2="506.70" y2="197.55" stroke="#000" stroke-width="0.95"/>
</svg>
</body></html>
